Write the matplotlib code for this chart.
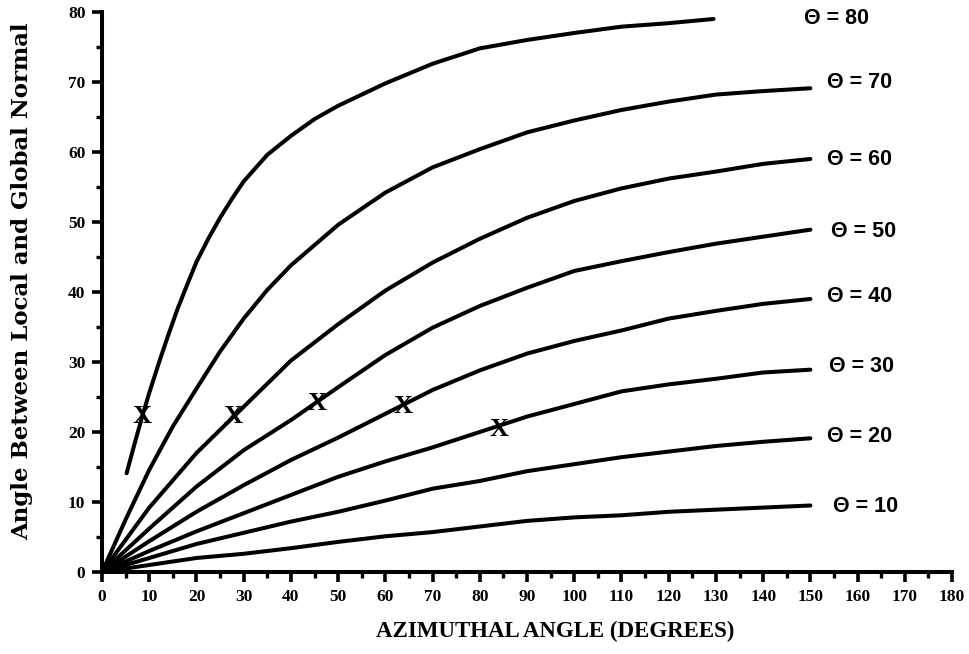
import matplotlib
matplotlib.use("Agg")
import matplotlib.pyplot as plt
from matplotlib.ticker import MultipleLocator

# azimuthal angle samples (degrees) shared by the theta = 10..60 curves
azimuth = [0, 10, 20, 30, 40, 50, 60, 70, 80, 90, 100, 110, 120, 130, 140, 150]

theta_10 = [0, 1.0, 2.0, 2.6, 3.4, 4.3, 5.1, 5.7, 6.5, 7.3, 7.8, 8.1, 8.6, 8.9, 9.2, 9.5]
theta_20 = [0, 2.0, 4.0, 5.6, 7.2, 8.6, 10.2, 11.9, 13.0, 14.4, 15.4, 16.4, 17.2, 18.0, 18.6, 19.1]
theta_30 = [0, 3.0, 5.8, 8.4, 11.0, 13.6, 15.8, 17.8, 20.0, 22.2, 24.0, 25.8, 26.8, 27.6, 28.5, 28.9]
theta_40 = [0, 4.4, 8.6, 12.4, 16.0, 19.2, 22.6, 26.0, 28.8, 31.2, 33.0, 34.5, 36.2, 37.3, 38.3, 39.0]
theta_50 = [0, 6.2, 12.2, 17.4, 21.7, 26.4, 31.0, 34.9, 38.0, 40.6, 43.0, 44.4, 45.7, 46.9, 47.9, 48.9]
theta_60 = [0, 9.2, 17.0, 23.6, 30.2, 35.4, 40.2, 44.2, 47.6, 50.6, 53.0, 54.8, 56.2, 57.2, 58.3, 59.0]

# steeper curves, read more densely near the origin
azimuth_70 = [0, 5, 10, 15, 20, 25, 30, 35, 40, 50, 60, 70, 80, 90, 100, 110, 120, 130, 140, 150]
theta_70 = [0, 7.5, 14.6, 20.8, 26.2, 31.5, 36.2, 40.3, 43.8, 49.6, 54.2, 57.8, 60.4, 62.8,
            64.5, 66.0, 67.2, 68.2, 68.7, 69.1]

azimuth_80 = [5.2, 7, 8.5, 10, 12, 14, 16, 18, 20, 22.5, 25, 27.5, 30, 35, 40, 45, 50, 55, 60,
              70, 80, 90, 100, 110, 120, 129.5]
theta_80 = [14.1, 18.6, 22.2, 25.6, 29.8, 33.8, 37.6, 41.0, 44.3, 47.6, 50.6, 53.3, 55.8, 59.6,
            62.3, 64.7, 66.6, 68.2, 69.8, 72.6, 74.8, 76.0, 77.0, 77.9, 78.4, 79.0]

# the "X" marks
mark_x = [8.5, 27.8, 45.5, 63.8, 84.0]
mark_y = [22.2, 22.2, 24.1, 23.6, 20.4]

curve_labels = ["\u0398 = 10", "\u0398 = 20", "\u0398 = 30", "\u0398 = 40",
                "\u0398 = 50", "\u0398 = 60", "\u0398 = 70", "\u0398 = 80"]
label_x = [154.7, 153.6, 154.0, 153.5, 154.3, 153.5, 153.6, 148.6]
label_y = [9.3, 19.3, 29.4, 39.3, 48.7, 58.9, 69.9, 79.1]

serif = ["Liberation Serif", "DejaVu Serif"]

fig = plt.figure(figsize=(9.7, 6.54), dpi=100)
ax = fig.add_axes([0.1052, 0.1254, 0.8763, 0.8563])

line_kw = dict(color="black", lw=2.9, solid_capstyle="round", solid_joinstyle="round",
               clip_on=False)
for ys in (theta_10, theta_20, theta_30, theta_40, theta_50, theta_60):
    ax.plot(azimuth, ys, **line_kw)
ax.plot(azimuth_70, theta_70, **line_kw)
ax.plot(azimuth_80, theta_80, **line_kw)

for x, y in zip(mark_x, mark_y):
    ax.text(x, y, "X", ha="center", va="center", fontsize=19, fontweight="bold",
            family=serif)

for txt, x, y in zip(curve_labels, label_x, label_y):
    ax.text(x, y, txt, ha="left", va="center", fontsize=15.5, fontweight="bold",
            family=["Liberation Sans", "DejaVu Sans"])

ax.set_xlim(0, 180)
ax.set_ylim(0, 80)
ax.xaxis.set_major_locator(MultipleLocator(10))
ax.xaxis.set_minor_locator(MultipleLocator(5))
ax.yaxis.set_major_locator(MultipleLocator(10))
ax.yaxis.set_minor_locator(MultipleLocator(5))

for side in ("top", "right"):
    ax.spines[side].set_visible(False)
for side in ("left", "bottom"):
    ax.spines[side].set_linewidth(2.9)

ax.tick_params(which="major", direction="out", length=7, width=2.6, labelsize=12.5, pad=5)
ax.tick_params(which="minor", direction="out", length=4.5, width=2.4)
for lab in ax.get_xticklabels() + ax.get_yticklabels():
    lab.set_fontweight("bold")
    lab.set_family(serif)

ax.set_xlabel("AZIMUTHAL ANGLE (DEGREES)", fontsize=16.5, fontweight="bold", family=serif)
ax.xaxis.set_label_coords(0.533, -0.087)
ax.set_ylabel("Angle Between Local and Global Normal", fontsize=16.5, fontweight="bold",
              family=["DejaVu Serif"])
ax.yaxis.set_label_coords(-0.081, 0.52)

fig.savefig("out.png", dpi=100)
